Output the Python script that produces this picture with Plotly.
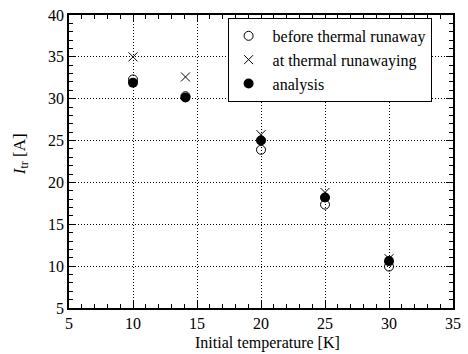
import plotly.graph_objects as go

temps = [10.0, 14.1, 20.0, 25.0, 30.0]
before = [32.3, 30.3, 23.9, 17.35, 9.95]
at_runaway = [35.0, 32.6, 25.7, 18.8, 10.9]
analysis = [31.9, 30.15, 25.0, 18.2, 10.6]
series_names = ["before thermal runaway", "at thermal runawaying", "analysis"]
x_title = "Initial temperature [K]"
y_title = "<i>I</i><sub>tr</sub> [A]"

font_family = "Times New Roman, serif"
pad = "\u00a0"

fig = go.Figure()
fig.add_trace(go.Scatter(x=temps, y=before, mode="markers", name=pad + series_names[0],
                         marker=dict(symbol="circle-open", size=9, color="black", line=dict(width=1))))
fig.add_trace(go.Scatter(x=temps, y=at_runaway, mode="markers", name=pad + series_names[1],
                         marker=dict(symbol="x-thin-open", size=9, color="black", line=dict(width=1))))
fig.add_trace(go.Scatter(x=temps, y=analysis, mode="markers", name=pad + series_names[2],
                         marker=dict(symbol="circle", size=10, color="black")))

axis_common = dict(
    showline=True, linecolor="black", linewidth=1.5, mirror="allticks",
    ticks="inside", ticklen=7, tickcolor="black", tickwidth=1,
    showgrid=True, gridcolor="black", griddash="1px,2px", gridwidth=1,
    zeroline=False,
    tickfont=dict(family=font_family, size=16, color="black"),
    minor=dict(ticks="inside", ticklen=4, dtick=1, tickcolor="black", showgrid=False),
)

fig.update_xaxes(range=[5, 35], dtick=5, tick0=5, **axis_common)
fig.update_yaxes(range=[5, 40], dtick=5, tick0=5, **axis_common)

fig.add_annotation(text=x_title, xref="paper", yref="paper", x=0.518, y=-0.119,
                   xanchor="center", yanchor="middle", showarrow=False,
                   font=dict(family=font_family, size=16, color="black"))
fig.add_annotation(text=y_title, xref="paper", yref="paper", x=-0.125, y=0.525,
                   xanchor="center", yanchor="middle", showarrow=False, textangle=-90,
                   font=dict(family=font_family, size=17, color="black"))

fig.update_layout(
    width=468, height=354,
    margin=dict(l=69, r=7, t=13, b=46),
    plot_bgcolor="white", paper_bgcolor="white",
    font=dict(family=font_family, color="black"),
    legend=dict(x=0.413, y=0.99, xanchor="left", yanchor="top",
                bordercolor="black", borderwidth=1, bgcolor="white",
                font=dict(family=font_family, size=16, color="black"),
                tracegroupgap=0, itemwidth=30),
)

fig.write_html("out.html")
